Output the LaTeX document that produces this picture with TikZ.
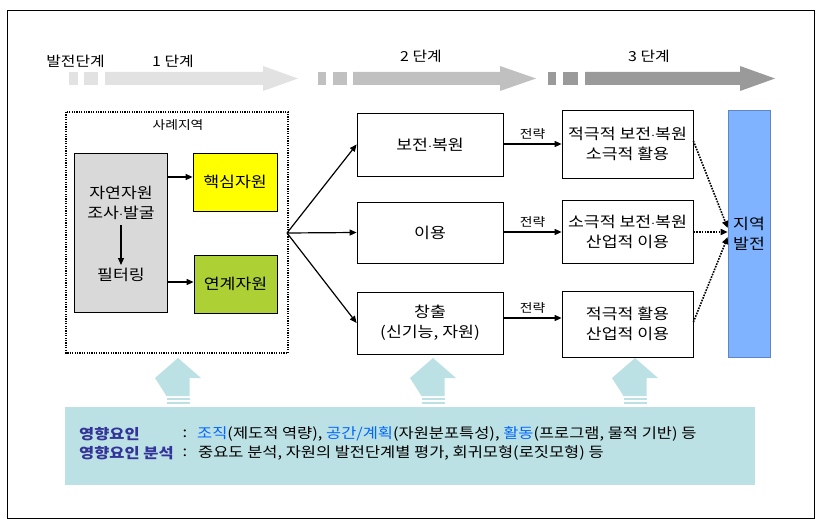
\documentclass[tikz,border=0pt]{standalone}
\usepackage{fontspec}
\setmainfont{Noto Sans CJK KR}[FakeStretch=1.15]
\usetikzlibrary{arrows.meta}
\definecolor{phA}{HTML}{E2E2E2}
\definecolor{phB}{HTML}{C0C0C0}
\definecolor{phC}{HTML}{9A9A9A}
\definecolor{grayfill}{HTML}{D9D9D9}
\definecolor{coreY}{HTML}{FFFF00}
\definecolor{linkG}{HTML}{ADD135}
\definecolor{devB}{HTML}{80B3FF}
\definecolor{devBd}{HTML}{5F86C4}
\definecolor{cyanF}{HTML}{BCE1E4}
\definecolor{labC}{HTML}{333399}
\definecolor{hlC}{HTML}{0066FF}
\newcommand\fsmain{\fontsize{15}{20}\selectfont}
\newcommand\fsphase{\fontsize{13.8}{16}\selectfont}
\newcommand\fssmall{\fontsize{12}{14}\selectfont}
\newcommand\fsbot{\fontsize{14.3}{16}\selectfont}
\begin{document}
\begin{tikzpicture}[x=1pt,y=-1pt,
  box/.style={draw=black, line width=0.8pt, align=center, font=\fsmain, inner sep=0pt},
  txt/.style={align=center, font=\fsmain, inner sep=0pt},
  arr/.style={-{Triangle[length=7pt,width=6pt]}, line width=1.2pt},
  dotarr/.style={-{Triangle[length=7pt,width=6pt]}, line width=1.6pt, dash pattern=on 1.6pt off 1.2pt},
  upar/.style={fill=cyanF}]
\useasboundingbox (0,0) rectangle (821,524);
\draw[line width=1pt] (7,11) rectangle (814,518);

% phase arrows
\fill[phA] (69,72) rectangle (78,85);
\fill[phA] (84,72) rectangle (98,85);
\fill[phA] (105,72) -- (263,72) -- (263,66) -- (298,78.5) -- (263,91) -- (263,85) -- (105,85) -- cycle;
\fill[phB] (318,72) rectangle (326,85);
\fill[phB] (333,72) rectangle (347,85);
\fill[phB] (353,72) -- (500,72) -- (500,66) -- (536,78.5) -- (500,91) -- (500,85) -- (353,85) -- cycle;
\fill[phC] (548,72) rectangle (556,85);
\fill[phC] (563,72) rectangle (578,85);
\fill[phC] (585,72) -- (740,72) -- (740,66) -- (775,78.5) -- (740,91) -- (740,85) -- (585,85) -- cycle;
\node[txt, font=\fsphase] (ph0) at (75.5,61) {발전단계};
\node[txt, font=\fsphase] (ph1) at (173,61) {1 단계};
\node[txt, font=\fsphase] (ph2) at (421,56) {2 단계};
\node[txt, font=\fsphase] (ph3) at (649,56) {3 단계};

% case region
\draw[line width=1.2pt, dash pattern=on 1.2pt off 1.2pt] (66,112) rectangle (288,353);
\node[txt, font=\fssmall] (case) at (178,125) {사례지역};
\node[box, fill=grayfill, minimum width=93pt, minimum height=159pt] (gray) at (120.5,232.5) {};
\node[txt] (t1) at (121,203) {자연자원\\조사$\cdot$발굴};
\node[txt] (t2) at (121,275) {필터링};
\draw[arr] ([yshift=-5pt]t1.south) -- ([yshift=3pt]t2.north);
\node[box, fill=coreY, minimum width=84pt, minimum height=58pt] (core) at (235,182) {핵심자원};
\node[box, fill=linkG, minimum width=83pt, minimum height=58pt] (link) at (235.5,284) {연계자원};
\draw[arr] (gray.east |- 0,177) -- (core.west |- 0,177);
\draw[arr] (gray.east |- 0,282) -- (link.west |- 0,282);

% fan
\coordinate (fan) at (287,233);
\node[box, minimum width=146pt, minimum height=63pt] (m1) at (430,144.5) {보전$\cdot$복원};
\node[box, minimum width=146pt, minimum height=61pt] (m2) at (430,232.5) {이용};
\node[box, minimum width=146pt, minimum height=62pt] (m3) at (430,323) {창출\\(신기능, 자원)};
\draw[arr] (fan) -- (m1.west);
\draw[arr] (fan) -- (m2.west);
\draw[arr] (fan) -- (m3.west);

% strategy boxes
\node[box, minimum width=131pt, minimum height=68pt] (r1) at (627.5,144) {적극적 보전$\cdot$복원\\소극적 활용};
\node[box, minimum width=131pt, minimum height=63pt] (r2) at (627.5,231.5) {소극적 보전$\cdot$복원\\산업적 이용};
\node[box, minimum width=131pt, minimum height=66pt] (r3) at (627.5,324) {적극적 활용\\산업적 이용};
\draw[arr] (m1.east |- 0,144) -- node[above=4pt, font=\fssmall, inner sep=0pt] (s1) {전략} (r1.west |- 0,144);
\draw[arr] (m2.east |- 0,232) -- node[above=4pt, font=\fssmall, inner sep=0pt] (s2) {전략} (r2.west |- 0,232);
\draw[arr] (m3.east |- 0,318) -- node[above=4pt, font=\fssmall, inner sep=0pt] (s3) {전략} (r3.west |- 0,318);

% regional development
\node[draw=devBd, line width=0.6pt, fill=devB, minimum width=42pt, minimum height=247pt, align=center, font=\fsmain, inner sep=0pt] (dev) at (749,233.5) {지역\\발전};
\draw[dotarr] (r1.east |- 0,141) -- (dev.west |- 0,228);
\draw[dotarr] (r2.east |- 0,232) -- (dev.west |- 0,232);
\draw[dotarr] (r3.east |- 0,322) -- (dev.west |- 0,237);

% upward arrows
\foreach \cx in {178,433,635} {
  \fill[upar] (\cx-23,378) -- (\cx,358) -- (\cx+23,378) -- (\cx+11.5,378) -- (\cx+11.5,396) -- (\cx-11.5,396) -- cycle;
  \fill[upar] (\cx-11.5,398) rectangle (\cx+11.5,400);
  \fill[upar] (\cx-11.5,402) rectangle (\cx+11.5,403.5);
}

% factor box
\node[fill=cyanF, minimum width=690pt, minimum height=78pt, inner sep=0pt] (fac) at (410,446) {};
\node[anchor=west, font=\fsbot\bfseries, text=labC, inner sep=0pt] (l1) at (79,434) {영향요인};
\node[anchor=west, font=\fsbot\bfseries, text=labC, inner sep=0pt] (l2) at (79,453) {영향요인 분석};
\node[anchor=center, font=\fsbot, inner sep=0pt] (c1) at (185,434) {:};
\node[anchor=center, font=\fsbot, inner sep=0pt] (c2) at (185,453) {:};
\node[anchor=west, font=\fsbot, inner sep=0pt] (b1) at (197,434) {{\color{hlC}조직}(제도적 역량), {\color{hlC}공간/계획}(자원분포특성), {\color{hlC}활동}(프로그램, 물적 기반) 등};
\node[anchor=west, font=\fsbot, inner sep=0pt] (b2) at (198,453) {중요도 분석, 자원의 발전단계별 평가, 회귀모형(로짓모형) 등};
\end{tikzpicture}
\end{document}
